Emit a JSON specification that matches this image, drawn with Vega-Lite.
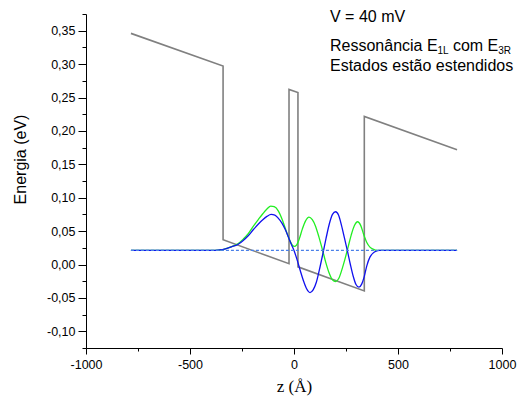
{
  "$schema": "https://vega.github.io/schema/vega-lite/v6.json",
  "width": 416,
  "height": 334,
  "autosize": {"type": "none"},
  "padding": {"left": 86, "top": 14, "right": 17, "bottom": 50},
  "background": "white",
  "config": {
    "view": {"stroke": null},
    "axis": {
      "grid": false,
      "domainColor": "black",
      "domainWidth": 1,
      "tickColor": "black",
      "tickWidth": 1,
      "labelColor": "black",
      "labelFont": "Liberation Sans",
      "labelFontSize": 12.5,
      "titleColor": "black",
      "titleFontWeight": "normal"
    }
  },
  "datasets": {
    "potential": [
      {"i": 0, "z": -784, "E": 0.346},
      {"i": 1, "z": -341, "E": 0.297},
      {"i": 2, "z": -341, "E": 0.037},
      {"i": 3, "z": -24, "E": 0.0012},
      {"i": 4, "z": -24, "E": 0.262},
      {"i": 5, "z": 19, "E": 0.2575},
      {"i": 6, "z": 19, "E": -0.0035},
      {"i": 7, "z": 338, "E": -0.0395},
      {"i": 8, "z": 338, "E": 0.2216},
      {"i": 9, "z": 784, "E": 0.1717}
    ],
    "green": [
      {"z": -784, "E": 0.021}, {"z": -420, "E": 0.021}, {"z": -380, "E": 0.0212},
      {"z": -356, "E": 0.0218}, {"z": -330, "E": 0.0235}, {"z": -300, "E": 0.0268},
      {"z": -270, "E": 0.031}, {"z": -244, "E": 0.038}, {"z": -220, "E": 0.046},
      {"z": -196, "E": 0.057}, {"z": -170, "E": 0.068}, {"z": -150, "E": 0.076},
      {"z": -130, "E": 0.083}, {"z": -112, "E": 0.0875}, {"z": -95, "E": 0.0865},
      {"z": -75, "E": 0.08}, {"z": -55, "E": 0.066}, {"z": -35, "E": 0.048},
      {"z": -20, "E": 0.036}, {"z": -8, "E": 0.029}, {"z": 2, "E": 0.027},
      {"z": 12, "E": 0.029}, {"z": 25, "E": 0.038}, {"z": 40, "E": 0.053},
      {"z": 55, "E": 0.065}, {"z": 72, "E": 0.071}, {"z": 88, "E": 0.067},
      {"z": 104, "E": 0.057}, {"z": 120, "E": 0.041}, {"z": 136, "E": 0.023},
      {"z": 152, "E": 0.004}, {"z": 168, "E": -0.012}, {"z": 185, "E": -0.023},
      {"z": 200, "E": -0.0255}, {"z": 215, "E": -0.021}, {"z": 230, "E": -0.008},
      {"z": 245, "E": 0.008}, {"z": 260, "E": 0.026}, {"z": 275, "E": 0.044},
      {"z": 290, "E": 0.058}, {"z": 306, "E": 0.064}, {"z": 320, "E": 0.059},
      {"z": 337, "E": 0.043}, {"z": 350, "E": 0.033}, {"z": 365, "E": 0.026},
      {"z": 380, "E": 0.023}, {"z": 400, "E": 0.021}, {"z": 784, "E": 0.021}
    ],
    "blue": [
      {"z": -784, "E": 0.021}, {"z": -420, "E": 0.021}, {"z": -380, "E": 0.0212},
      {"z": -356, "E": 0.0218}, {"z": -330, "E": 0.0235}, {"z": -300, "E": 0.0265},
      {"z": -270, "E": 0.03}, {"z": -244, "E": 0.036}, {"z": -220, "E": 0.043},
      {"z": -196, "E": 0.052}, {"z": -170, "E": 0.061}, {"z": -150, "E": 0.067},
      {"z": -130, "E": 0.072}, {"z": -110, "E": 0.075}, {"z": -92, "E": 0.074},
      {"z": -75, "E": 0.069}, {"z": -58, "E": 0.062}, {"z": -43, "E": 0.053},
      {"z": -28, "E": 0.042}, {"z": -14, "E": 0.031}, {"z": 0, "E": 0.021},
      {"z": 15, "E": 0.007}, {"z": 30, "E": -0.009}, {"z": 45, "E": -0.024},
      {"z": 60, "E": -0.036}, {"z": 77, "E": -0.042}, {"z": 92, "E": -0.038},
      {"z": 107, "E": -0.027}, {"z": 122, "E": -0.008}, {"z": 138, "E": 0.015},
      {"z": 154, "E": 0.039}, {"z": 170, "E": 0.061}, {"z": 185, "E": 0.075},
      {"z": 200, "E": 0.079}, {"z": 214, "E": 0.074}, {"z": 228, "E": 0.059},
      {"z": 243, "E": 0.039}, {"z": 257, "E": 0.02}, {"z": 271, "E": 0.0},
      {"z": 285, "E": -0.018}, {"z": 298, "E": -0.03}, {"z": 312, "E": -0.034},
      {"z": 326, "E": -0.029}, {"z": 337, "E": -0.019}, {"z": 350, "E": -0.002},
      {"z": 365, "E": 0.011}, {"z": 380, "E": 0.017}, {"z": 395, "E": 0.02},
      {"z": 410, "E": 0.021}, {"z": 784, "E": 0.021}
    ],
    "level": [
      {"z": -784, "E": 0.021}, {"z": 784, "E": 0.021}
    ],
    "mainText": [
      {"z": 173, "E": 0.3627, "t": "V = 40 mV"},
      {"z": 173, "E": 0.3199, "t": "Ressonância E"},
      {"z": 764, "E": 0.3199, "t": "com E"},
      {"z": 173, "E": 0.29, "t": "Estados estão estendidos"}
    ],
    "subText": [
      {"z": 690, "E": 0.3144, "t": "1L"},
      {"z": 982, "E": 0.3144, "t": "3R"}
    ]
  },
  "encoding": {
    "x": {
      "field": "z", "type": "quantitative",
      "scale": {"domain": [-1000, 1000], "nice": false, "zero": false},
      "axis": {
        "title": "z (Å)",
        "titleFont": "Liberation Serif",
        "titleFontSize": 17,
        "titlePadding": 8,
        "values": [-1000, -750, -500, -250, 0, 250, 500, 750, 1000],
        "labelExpr": "datum.value % 500 == 0 ? '' + datum.value : ''",
        "labelFlush": false,
        "labelOverlap": false,
        "labelPadding": 4,
        "tickSize": {"condition": {"test": "datum.value % 500 == 0", "value": 6}, "value": 3}
      }
    },
    "y": {
      "field": "E", "type": "quantitative",
      "scale": {"domain": [-0.125, 0.375], "nice": false, "zero": false},
      "axis": {
        "title": "Energia (eV)",
        "titleFont": "Liberation Sans",
        "titleFontSize": 16,
        "titlePadding": 18,
        "titleY": 145,
        "values": [-0.125, -0.1, -0.075, -0.05, -0.025, 0, 0.025, 0.05, 0.075, 0.1, 0.125, 0.15, 0.175, 0.2, 0.225, 0.25, 0.275, 0.3, 0.325, 0.35, 0.375],
        "labelExpr": "abs(datum.value*20 - round(datum.value*20)) < 0.001 ? replace(replace(format(datum.value, '.2f'), '.', ','), '\u2212', '-') : ''",
        "labelOverlap": false,
        "labelPadding": 3,
        "tickSize": {"condition": {"test": "abs(datum.value*20 - round(datum.value*20)) < 0.001", "value": 8}, "value": 4}
      }
    }
  },
  "layer": [
    {
      "data": {"name": "potential"},
      "mark": {"type": "line", "color": "#808080", "strokeWidth": 1.6},
      "encoding": {"order": {"field": "i", "type": "quantitative"}}
    },
    {
      "data": {"name": "green"},
      "mark": {"type": "line", "color": "#22ee22", "strokeWidth": 1.3, "interpolate": "monotone"},
      "encoding": {}
    },
    {
      "data": {"name": "blue"},
      "mark": {"type": "line", "color": "#1010ee", "strokeWidth": 1.3, "interpolate": "monotone"},
      "encoding": {}
    },
    {
      "data": {"name": "level"},
      "mark": {"type": "line", "color": "#4a80e8", "strokeWidth": 1.3, "strokeDash": [3, 2]},
      "encoding": {}
    },
    {
      "data": {"name": "mainText"},
      "mark": {"type": "text", "align": "left", "baseline": "alphabetic", "font": "Liberation Sans", "fontSize": 16, "fill": "black", "color": "black"},
      "encoding": {"text": {"field": "t"}}
    },
    {
      "data": {"name": "subText"},
      "mark": {"type": "text", "align": "left", "baseline": "alphabetic", "font": "Liberation Sans", "fontSize": 10, "fill": "black", "color": "black"},
      "encoding": {"text": {"field": "t"}}
    }
  ]
}
